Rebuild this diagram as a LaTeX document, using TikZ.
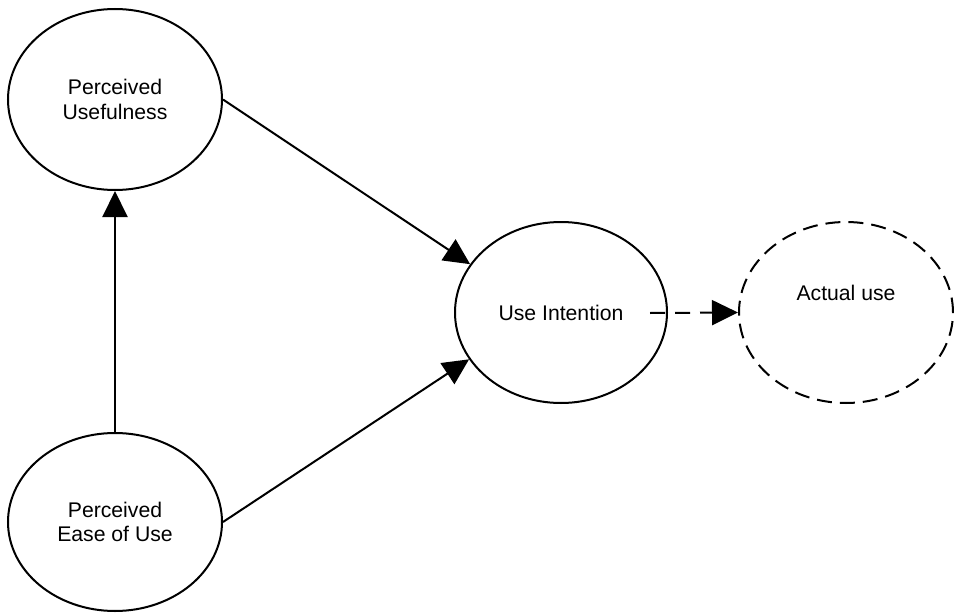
\documentclass[tikz,border=0pt]{standalone}
\usepackage{fontspec}
\setmainfont{Liberation Sans}
\usetikzlibrary{shapes.geometric,arrows.meta}
\begin{document}
\begin{tikzpicture}[x=1pt,y=-1pt,
  bubble/.style={draw,ellipse,line width=2pt,inner sep=0pt,align=center,
    font=\fontsize{21.2}{24.5}\selectfont},
  link/.style={line width=2pt,-{Triangle[length=26pt,width=25pt]}},
  dashlink/.style={link,dash pattern=on 15pt off 10pt}]
\useasboundingbox (0,0) rectangle (954,613);
\node[bubble,minimum width=214pt,minimum height=181pt] (PU) at (115,99.5) {Perceived\\Usefulness};
\node[bubble,minimum width=214pt,minimum height=178pt] (PE) at (115,522) {Perceived\\Ease of Use};
\node[bubble,minimum width=212pt,minimum height=181pt] (UI) at (561,312.5) {Use Intention};
\node[bubble,dash pattern=on 15pt off 8pt,minimum width=214pt,minimum height=181pt,
  label={[font=\fontsize{21.2}{24.5}\selectfont,yshift=20pt]center:Actual use}] (AU) at (846,312.5) {};
\coordinate (DS) at (650,313);
\draw[link] (PE.north) -- (PU.south);
\draw[link] (PU.east) -- (UI.152);
\draw[link] (PE.east) -- (UI.207);
\draw[dashlink] (DS) -- (AU.west);
\end{tikzpicture}
\end{document}
